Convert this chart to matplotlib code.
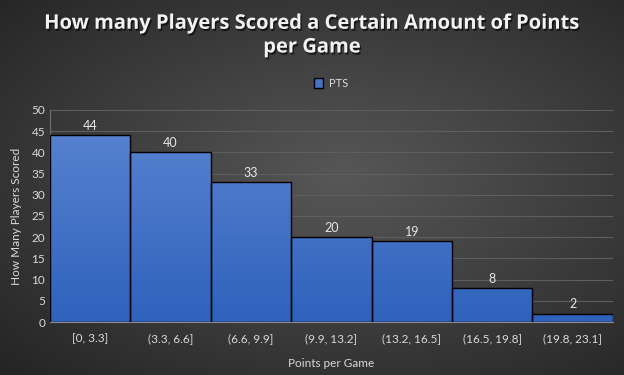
import numpy as np
import matplotlib.pyplot as plt
import matplotlib.patheffects as pe
from matplotlib.colors import LinearSegmentedColormap

bins = ["[0, 3.3]", "(3.3, 6.6]", "(6.6, 9.9]", "(9.9, 13.2]",
        "(13.2, 16.5]", "(16.5, 19.8]", "(19.8, 23.1]"]
counts = [44, 40, 33, 20, 19, 8, 2]

plt.rcParams['font.family'] = ['Lato', 'DejaVu Sans']

fig = plt.figure(figsize=(6.24, 3.75), dpi=100)

# radial background
bg = fig.add_axes([0, 0, 1, 1], zorder=-10)
yy, xx = np.mgrid[-1:1:200j, -1:1:330j]
r = np.sqrt(((xx - 0.1) * 0.85) ** 2 + ((yy + 0.05) * 0.9) ** 2)
bgcmap = LinearSegmentedColormap.from_list("bg", ["#575757", "#252525"])
bg.imshow(r, cmap=bgcmap, aspect="auto", extent=[0, 1, 0, 1], vmin=0, vmax=1.3)
bg.axis("off")

ax = fig.add_axes([0.080, 0.141, 0.902, 0.566])
ax.patch.set_alpha(0)
x = np.arange(len(counts))
bars = ax.bar(x, counts, width=1.0, color="#3F6FC8", edgecolor="black", linewidth=1.0, zorder=3)

# vertical gradient for bars
barcmap = LinearSegmentedColormap.from_list("bar", ["#2F62BC", "#5B85D2"])
grad = np.linspace(0, 1, 256).reshape(-1, 1)
for b, c in zip(bars, counts):
    im = ax.imshow(grad, cmap=barcmap, aspect="auto", origin="lower",
                   extent=[b.get_x(), b.get_x() + b.get_width(), 0, 50], zorder=2.5)
    im.set_clip_path(b)
    b.set_facecolor("none")
    ax.text(b.get_x() + b.get_width() / 2, c + 0.8, str(c), ha="center", va="bottom",
            color="#E6E6E6", fontsize=9)

ax.set_xlim(-0.5, len(counts) - 0.5)
ax.set_ylim(0, 50)
ax.set_yticks(range(0, 51, 5))
ax.set_xticks(x)
ax.set_xticklabels(bins)
ax.tick_params(colors="#D9D9D9", labelsize=8.5, length=0)
ax.tick_params(axis="x", pad=8)
ax.grid(axis="y", color="#5E5E5E", linewidth=0.8, zorder=0)
for s in ["top", "right"]:
    ax.spines[s].set_visible(False)
ax.spines["bottom"].set_color("#8C8C8C")
ax.spines["left"].set_color("#6E6E6E")
ax.spines["left"].set_linewidth(0.8)
ax.set_ylabel("How Many Players Scored", color="#D9D9D9", fontsize=8.5, labelpad=7)
ax.set_xlabel("Points per Game", color="#D9D9D9", fontsize=8.5, labelpad=10)

fig.text(0.5, 0.905, "How many Players Scored a Certain Amount of Points\nper Game",
         ha="center", va="center", color="#F2F2F2", fontsize=14.5, fontweight="bold",
         fontfamily="Open Sans", linespacing=1.25,
         path_effects=[pe.withSimplePatchShadow(offset=(1, -1.5), shadow_rgbFace="black", alpha=0.6)])

leg = ax.legend([bars[0]], ["PTS"], loc="lower center", bbox_to_anchor=(0.5, 1.05),
                frameon=False, fontsize=8, labelcolor="#D9D9D9",
                handlelength=0.8, handleheight=1.0, handletextpad=0.5)
leg.legend_handles[0].set_facecolor("#4472C4")

fig.savefig("out.png", dpi=100)
